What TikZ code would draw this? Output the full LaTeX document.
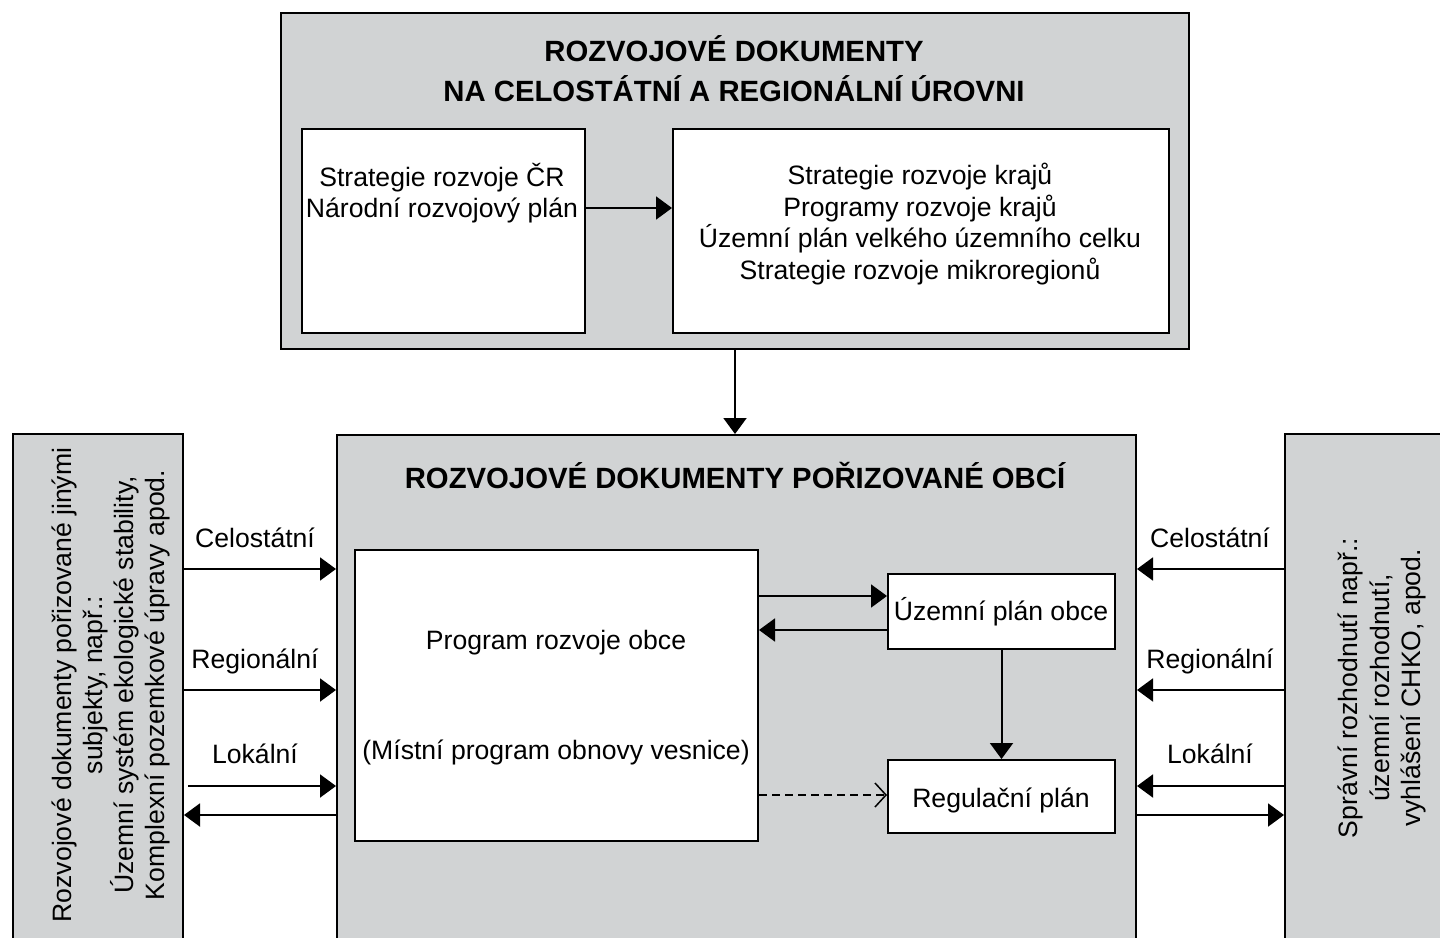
\documentclass[tikz,border=0pt]{standalone}
\usepackage{fontspec}
\setmainfont{Liberation Sans}
\usetikzlibrary{arrows.meta}
\definecolor{panelgray}{RGB}{209,211,212}

\begin{document}
\begin{tikzpicture}[x=1pt,y=-1pt,
  every node/.style={font=\fontsize{26.6}{31.7}\selectfont, inner sep=0pt},
  panel/.style={draw=black, line width=2pt, fill=panelgray, anchor=north west},
  whitebox/.style={draw=black, line width=2pt, fill=white, anchor=north west},
  heading/.style={font=\fontsize{29.3}{40}\selectfont\bfseries, align=center},
  arr/.style={line width=2pt, -{Triangle[length=16pt,width=23pt]}},
  dasharr/.style={line width=1.5pt, dash pattern=on 8pt off 5pt,
                  -{Straight Barb[length=11pt,width=24pt]}}]

\useasboundingbox (0,0) rectangle (1440,937);
\clip (0,0) rectangle (1440,937);

% national and regional level
\node[panel, minimum width=908pt, minimum height=336pt] (top) at (280,12) {};
\node[heading] (toptitle) at (734,69)
  {ROZVOJOVÉ DOKUMENTY\\NA CELOSTÁTNÍ A REGIONÁLNÍ ÚROVNI};
\node[whitebox, minimum width=283pt, minimum height=204pt] (nat) at (301,128) {};
\node[align=center] (nattext) at (442,193)
  {Strategie rozvoje ČR\\Národní rozvojový plán};
\node[whitebox, minimum width=496pt, minimum height=204pt] (reg2) at (672,128) {};
\node[align=center] (regtext) at (920,224)
  {Strategie rozvoje krajů\\Programy rozvoje krajů\\Územní plán velkého územního celku\\Strategie rozvoje mikroregionů};

% municipal level
\node[panel, minimum width=799pt, minimum height=560pt] (mid) at (336,434) {};
\node[heading] (midtitle) at (735,475.5) {ROZVOJOVÉ DOKUMENTY POŘIZOVANÉ OBCÍ};
\node[whitebox, minimum width=403pt, minimum height=291pt] (prog) at (354,549) {};
\node (progtext) at (556,643) {Program rozvoje obce};
\node (progsub) at (556,752) {(Místní program obnovy vesnice)};
\node[whitebox, minimum width=227pt, minimum height=75pt] (upo) at (887,573) {};
\node (upotext) at (1001,612) {Územní plán obce};
\node[whitebox, minimum width=227pt, minimum height=73pt] (rp) at (887,759) {};
\node (rptext) at (1001,800) {Regulační plán};

% side panels
\node[panel, minimum width=170pt, minimum height=560pt] (left) at (12,433) {};
\node[rotate=90, align=center, font=\fontsize{26.6}{31}\selectfont] (lefttext) at (111,685)
  {Rozvojové dokumenty pořizované jinými\\subjekty, např.:\\Územní systém ekologické stability,\\Komplexní pozemkové úpravy apod.};
\node[panel, minimum width=200pt, minimum height=560pt] (right) at (1284,433) {};
\node[rotate=90, align=center, font=\fontsize{26.6}{31.5}\selectfont] (righttext) at (1382,688)
  {Správní rozhodnutí např.:\\územní rozhodnutí,\\vyhlášení CHKO, apod.};

% level labels
\node[anchor=base] (lc) at (255,547) {Celostátní};
\node[anchor=base] (lr) at (255,668) {Regionální};
\node[anchor=base] (ll) at (255,763) {Lokální};
\node[anchor=base] (rc) at (1210,547) {Celostátní};
\node[anchor=base] (rr) at (1210,668) {Regionální};
\node[anchor=base] (rl) at (1210,763) {Lokální};

% connectors
\draw[arr] (nat.east |- 0,208) -- (reg2.west |- 0,208);
\draw[arr] (top.south) -- (top.south |- mid.north);
\draw[arr] (prog.east |- 0,596) -- (upo.west |- 0,596);
\draw[arr] (upo.west |- 0,630) -- (prog.east |- 0,630);
\draw[arr] (upo.south) -- (rp.north);
\draw[dasharr] (prog.east |- 0,795) -- (rp.west |- 0,795);

\draw[arr] (left.east |- 0,569) -- (mid.west |- 0,569);
\draw[arr] (left.east |- 0,690) -- (mid.west |- 0,690);
\draw[arr] ([xshift=4pt]left.east |- 0,786) -- (mid.west |- 0,786);
\draw[arr] (mid.west |- 0,815) -- (left.east |- 0,815);

\draw[arr] (right.west |- 0,569) -- (mid.east |- 0,569);
\draw[arr] (right.west |- 0,690) -- (mid.east |- 0,690);
\draw[arr] (right.west |- 0,786) -- (mid.east |- 0,786);
\draw[arr] (mid.east |- 0,815) -- (right.west |- 0,815);
\end{tikzpicture}
\end{document}
